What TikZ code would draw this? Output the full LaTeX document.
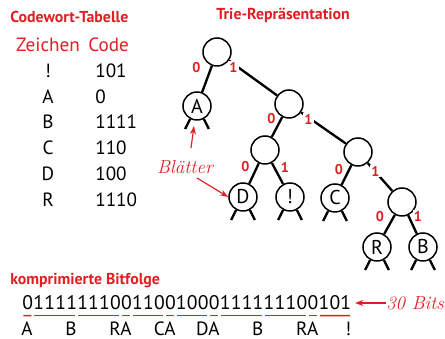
\documentclass[tikz,border=0pt]{standalone}
\usepackage{fontspec}
\setsansfont{PT Sans}
\renewcommand{\familydefault}{\sfdefault}
\usepackage{tikz}
\usetikzlibrary{calc,arrows.meta}
\definecolor{markred}{RGB}{225,30,35}
% every digit of the bit string in a box of the same width
\def\evenbits#1{\evenbitsloop#1\relax}
\def\evenbitsloop#1{\ifx#1\relax\else\makebox[6.58pt]{#1}\expandafter\evenbitsloop\fi}

\begin{document}
\begin{tikzpicture}[x=0.6pt,y=-0.6pt,
		knot/.style={circle,draw,line width=0.9pt,minimum size=16.8pt,inner sep=0pt,font=\fontsize{12}{12}\selectfont},
		branch/.style={line width=1.4pt},
		bit/.style={text=markred,fill=white,inner sep=0.6pt,font=\bfseries\fontsize{8.5}{9}\selectfont},
		heading/.style={text=markred,font=\bfseries\fontsize{9.5}{10}\selectfont},
		plain/.style={inner sep=0pt,font=\fontsize{11.5}{12}\selectfont},
		note/.style={text=markred,font=\rmfamily\itshape\fontsize{11.3}{12}\selectfont},
		pointer/.style={markred,line width=0.7pt,-{Stealth[length=5pt,width=3.6pt]}},
		underline/.style={markred,line width=0.9pt}]
	\useasboundingbox (0,0) rectangle (445,339);
	
	% Draw the code word table
	\node[heading,anchor=west,inner sep=0pt] (tabtitle) at (10,17) {Codewort-Tabelle};
	\node[plain,text=markred,anchor=base] (zeichen) at (48,51.5) {Zeichen};
	\node[plain,text=markred,anchor=base west] (code) at (88,51.5) {Code};
	\foreach \c/\w [count=\i] in {!/101,A/0,B/1111,C/110,D/100,R/1110}
	{
		\node[plain,anchor=base] (sym\i) at (48,{51.5+25.8*\i}) {\c};
		\node[plain,anchor=base west] (cw\i) at (95,{51.5+25.8*\i}) {\w};
	}
	
	% Draw the trie
	\node[heading] (trietitle) at (283,15) {Trie-Repräsentation};
	\node[knot] (n) at (217,52) {};
	\node[knot] (nA) at (197,106) {A};
	\node[knot] (n1) at (289,104) {};
	\node[knot] (n10) at (265,150) {};
	\node[knot] (n11) at (358,152) {};
	\node[knot] (nD) at (243,197) {D};
	\node[knot] (nX) at (290,197) {!};
	\node[knot] (nC) at (335,198) {C};
	\node[knot] (n111) at (402,202) {};
	\node[knot] (nR) at (377,247) {R};
	\node[knot] (nB) at (423,247) {B};
	
	\draw[branch] (n) -- (nA);
	\draw[branch] (n) -- (n1);
	\draw[branch] (n1) -- (n10);
	\draw[branch] (n1) -- (n11);
	\draw[branch] (n10) -- (nD);
	\draw[branch] (n10) -- (nX);
	\draw[branch] (n11) -- (nC);
	\draw[branch] (n11) -- (n111);
	\draw[branch] (n111) -- (nR);
	\draw[branch] (n111) -- (nB);
	
	% Stubs below the leaves
	\foreach \l in {nA,nD,nX,nC,nR,nB}
	{
		\draw[branch] (\l.-118) -- ++(-5,10);
		\draw[branch] (\l.-62) -- ++(5,10);
	}
	
	% Label the branches
	\node[bit] (e0) at (196.5,67.5) {0};
	\node[bit] (e1) at (233.5,67.5) {1};
	\node[bit] (e10) at (271.5,119) {0};
	\node[bit] (e11) at (308.5,119) {1};
	\node[bit] (e100) at (245.5,167) {0};
	\node[bit] (e101) at (285,167) {1};
	\node[bit] (e110) at (339,170) {0};
	\node[bit] (e111) at (375.5,171) {1};
	\node[bit] (e1110) at (380,217) {0};
	\node[bit] (e1111) at (418,216) {1};
	
	% Point at the leaves
	\node[note] (leaves) at (185,167) {Blätter};
	\coordinate (leavesup) at (191,148);
	\coordinate (leavesdown) at (197,178);
	\draw[pointer] (leavesup) -- (194,126);
	\draw[pointer] (leavesdown) -- (nD.west);
	
	% Draw the compressed bit string
	\node[heading,anchor=west,inner sep=0pt] (bitstitle) at (10,281) {komprimierte Bitfolge};
	\node[plain,anchor=base west,font=\fontsize{11.8}{12}\selectfont] (bits) at (22,310) {\evenbits{011111110011001000111111100101}};
	\foreach \a/\b in {0/1,1/5,5/9,9/10,10/13,13/14,14/17,17/18,18/22,22/26,26/27,27/30}
	\draw[underline] ($(bits.south west)!\a/30!(bits.south east)+(1.5,5)$) -- ($(bits.south west)!\b/30!(bits.south east)+(-1.5,5)$);
	\foreach \e/\t in {1/A,5/B,10/RA,14/CA,18/DA,22/B,27/RA,30/!}
	\node[plain,anchor=base east] (dec\e) at ($(bits.south west)!\e/30!(bits.south east)+(0,25)$) {\t};
	
	% Total length
	\node[note,anchor=west,inner sep=0pt] (total) at (386,303) {30 Bits};
	\draw[pointer,shorten >=2pt] (total.west) -- (bits.east |- total.west);
\end{tikzpicture}
\end{document}
